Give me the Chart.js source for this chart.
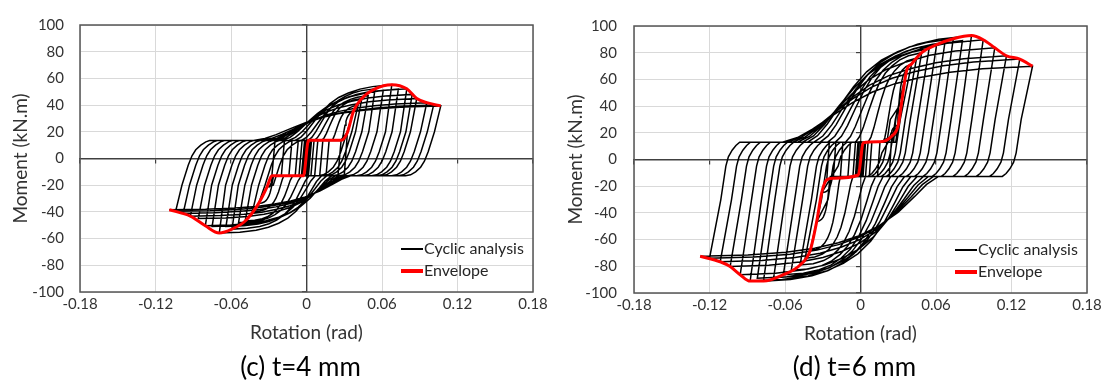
<!DOCTYPE html>
<html>
<head>
<meta charset="utf-8">
<script src="https://cdn.jsdelivr.net/npm/chart.js@4.4.1/dist/chart.umd.min.js"></script>
<style>
  html, body { margin: 0; padding: 0; background: #fff; }
  #wrap { position: relative; width: 1107px; height: 387px; }
  canvas { position: absolute; top: 0; }
  #chartC { left: 0; }
  #chartD { left: 553px; }
</style>
</head>
<body>
<div id="wrap">
  <canvas id="chartC" width="553" height="387"></canvas>
  <canvas id="chartD" width="554" height="387"></canvas>
</div>
<script>
const rotTicks = [-0.18, -0.12, -0.06, 0, 0.06, 0.12, 0.18];
const momTicks = [-100, -80, -60, -40, -20, 0, 20, 40, 60, 80, 100];
const FONT = "Lato, 'Open Sans', sans-serif";

// ---- (c) t=4 mm : cycle peaks (positive then negative)
const rotPosC = [0.002, 0.003, 0.004, 0.006, 0.009, 0.013, 0.018, 0.0275, 0.0325, 0.0373, 0.041, 0.044, 0.049, 0.0545, 0.061, 0.0678, 0.073, 0.0797, 0.084, 0.0876, 0.0956, 0.101, 0.1067];
const momPosC = [12, 13, 13.5, 13.5, 13.5, 13.6, 13.6, 13.6, 19.5, 35.3, 40, 45, 47, 52.2, 51, 55.3, 52, 52.2, 48, 45, 41.8, 40, 39.4];
const rotNegC = [-0.002, -0.003, -0.004, -0.006, -0.009, -0.014, -0.02, -0.0275, -0.0314, -0.038, -0.043, -0.0487, -0.054, -0.0592, -0.064, -0.0693, -0.075, -0.0804, -0.086, -0.0923, -0.098, -0.104, -0.109];
const momNegC = [-11.5, -12, -12.5, -13, -13, -13, -13, -13, -21.4, -33.6, -40, -46.8, -48, -52.9, -51, -55.8, -51, -50.4, -45, -43.2, -41, -39.5, -38.4];
// rotation where each reloading branch leaves the slip plateau
const slipPosC = [0.002, 0.003, 0.004, 0.006, 0.009, 0.013, 0.018, 0.0275, 0.027, 0.028, 0.02, 0.012, 0.006, 0.001, -0.004, -0.009, -0.014, -0.019, -0.023, -0.027, -0.031, -0.036, -0.042];
const slipNegC = [-0.002, -0.003, -0.004, -0.006, -0.009, -0.014, -0.02, -0.0275, -0.027, -0.026, -0.018, -0.011, -0.004, 0.002, 0.007, 0.012, 0.016, 0.02, 0.023, 0.026, 0.029, 0.032, 0.035];
// unloading branch: [rotation offset from peak, moment]
const unloadPosC = [[-0.005, 20], [-0.01, 5], [-0.013, -2], [-0.016, -6.5], [-0.02, -10], [-0.024, -12.2], [-0.028, -13]];
const unloadNegC = [[0.005, -20], [0.01, -5], [0.013, 2], [0.016, 6.5], [0.02, 10], [0.024, 12.5], [0.027, 13.5]];
const envRotC = [-0.109, -0.0923, -0.0804, -0.0693, -0.0592, -0.0487, -0.038, -0.0314, -0.0275, -0.0024, 0.0016, 0.0275, 0.0325, 0.0373, 0.044, 0.0545, 0.0678, 0.0797, 0.0876, 0.0956, 0.1067];
const envMomC = [-38.4, -43.2, -50.4, -55.8, -52.9, -46.8, -33.6, -21.4, -13, -13, 13.6, 13.6, 19.5, 35.3, 45, 52.2, 55.3, 52.2, 45, 41.8, 39.4];

// ---- (d) t=6 mm
const rotPosD = [0.002, 0.003, 0.004, 0.006, 0.009, 0.0155, 0.0248, 0.030, 0.0327, 0.0367, 0.0406, 0.0446, 0.0486, 0.0545, 0.0605, 0.067, 0.0737, 0.081, 0.0882, 0.0975, 0.1067, 0.116, 0.1266, 0.1367];
const momPosD = [12.6, 12.8, 12.8, 13, 13, 13.3, 17.4, 25.8, 42.7, 66.8, 71.6, 76, 80, 83, 86, 87, 90.4, 89, 92.8, 89.7, 83.7, 77.7, 75.2, 69.9];
const rotNegD = [-0.0017, -0.003, -0.004, -0.006, -0.01, -0.016, -0.0216, -0.0268, -0.0308, -0.0348, -0.040, -0.044, -0.048, -0.055, -0.0613, -0.069, -0.0771, -0.082, -0.0877, -0.0956, -0.1036, -0.1115, -0.12, -0.1274];
const momNegD = [-11.6, -12, -12.3, -12.5, -12.7, -13, -14, -15.2, -24.8, -46.5, -68.2, -74, -79, -83, -86.3, -88.5, -91.1, -89, -91.1, -86.3, -80.2, -76.6, -74, -72.5];
const slipPosD = [0.002, 0.003, 0.004, 0.006, 0.009, 0.0155, 0.0155, 0.022, 0.026, 0.028, 0.018, 0.006, -0.004, -0.012, -0.02, -0.026, -0.032, -0.037, -0.042, -0.046, -0.05, -0.054, -0.058, -0.062];
const slipNegD = [-0.0017, -0.003, -0.004, -0.006, -0.01, -0.016, -0.0017, -0.0216, -0.022, -0.024, -0.016, -0.006, 0.004, 0.012, 0.018, 0.024, 0.03, 0.035, 0.04, 0.045, 0.05, 0.054, 0.058, 0.062];
const unloadPosD = [[-0.009, 30], [-0.013, 5], [-0.015, -2], [-0.018, -7], [-0.021, -10.5], [-0.024, -12.7]];
const unloadNegD = [[0.009, -30], [0.013, -5], [0.015, 2], [0.018, 7], [0.021, 10.5], [0.024, 13]];
const envRotD = [-0.1274, -0.1115, -0.1036, -0.0956, -0.0877, -0.0771, -0.0613, -0.048, -0.040, -0.0348, -0.0308, -0.0268, -0.0216, -0.0017, 0.0022, 0.0155, 0.0248, 0.030, 0.0327, 0.0367, 0.0406, 0.0486, 0.0605, 0.0737, 0.0882, 0.0975, 0.1067, 0.116, 0.1266, 0.1367];
const envMomD = [-72.5, -76.6, -80.2, -86.3, -91.1, -91.1, -86.3, -79, -68.2, -46.5, -24.8, -15.2, -14, -11.6, 12.6, 13.3, 17.4, 25.8, 42.7, 66.8, 71.6, 80, 86, 90.4, 92.8, 89.7, 83.7, 77.7, 75.2, 69.9];

// shape of a reloading branch, plateau -> peak, as [fraction of rotation span, fraction of moment rise]
const reloadPosShape = [[0.06, 0.06], [0.12, 0.17], [0.2, 0.35], [0.28, 0.52], [0.36, 0.66], [0.45, 0.77], [0.55, 0.85], [0.67, 0.92], [0.8, 0.965]];
const reloadNegShape = [[0.05, 0.1], [0.1, 0.25], [0.17, 0.45], [0.25, 0.62], [0.33, 0.74], [0.42, 0.83], [0.52, 0.9], [0.64, 0.95], [0.8, 0.985]];

// walk through the cycles: peak -> unload -> slip plateau -> reload -> opposite peak
function buildLoops(s) {
  const pts = [{ x: 0, y: 0 }];
  for (let i = 0; i < s.rotPos.length; i++) {
    const ap = s.rotPos[i], mp = s.momPos[i], an = s.rotNeg[i], mn = s.momNeg[i];
    if (i > 0) {
      const pn = s.rotNeg[i - 1], pm = s.momNeg[i - 1];
      if (pm > -20) pts.push({ x: pn + s.gap, y: s.top });
      else s.unloadNeg.forEach(([dx, m]) => { if (m > pm) pts.push({ x: pn + dx, y: m }); });
    }
    const sp = s.slipPos[i];
    if (sp < ap - 0.0005) pts.push({ x: sp, y: s.top });
    if (mp >= 20) {
      reloadPosShape.forEach(([u, v]) => pts.push({ x: sp + u * (ap - sp), y: s.top + v * (mp - s.top) }));
    }
    pts.push({ x: ap, y: mp });

    if (mp < 20) pts.push({ x: ap - s.gap, y: s.bot });
    else s.unloadPos.forEach(([dx, m]) => { if (m < mp) pts.push({ x: ap + dx, y: m }); });
    const sn = s.slipNeg[i];
    if (sn > an + 0.0005) pts.push({ x: sn, y: s.bot });
    if (mn <= -20) {
      reloadNegShape.forEach(([u, v]) => pts.push({ x: sn + u * (an - sn), y: s.bot + v * (mn - s.bot) }));
    }
    pts.push({ x: an, y: mn });
  }
  return pts;
}

const frameAndLegend = {
  id: 'frameAndLegend',
  beforeDatasetsDraw(chart) {
    const { ctx, chartArea: a } = chart;
    ctx.save();
    ctx.strokeStyle = '#555555';
    ctx.lineWidth = 1.5;
    ctx.strokeRect(a.left, a.top, a.right - a.left, a.bottom - a.top);
    ctx.restore();
  },
  afterDraw(chart, args, opts) {
    const { ctx, chartArea: a } = chart;
    ctx.save();
    const lx = a.right - 132;
    const rows = [
      { y: a.bottom - 43, color: '#000000', w: 2, text: 'Cyclic analysis' },
      { y: a.bottom - 21, color: '#ff0000', w: 4, text: 'Envelope' }
    ];
    ctx.font = '16px ' + FONT;
    ctx.textBaseline = 'middle';
    rows.forEach(r => {
      ctx.strokeStyle = r.color;
      ctx.lineWidth = r.w;
      ctx.beginPath();
      ctx.moveTo(lx, r.y);
      ctx.lineTo(lx + 22, r.y);
      ctx.stroke();
      ctx.fillStyle = '#262626';
      ctx.fillText(r.text, lx + 23, r.y);
    });
    ctx.font = '26px ' + FONT;
    ctx.textAlign = 'center';
    ctx.fillStyle = '#000000';
    ctx.fillText(opts.caption, (a.left + a.right) / 2 - 6, 368);
    ctx.restore();
  }
};

function makeChart(id, series, env, layout) {
  const setTicks = (vals) => (s) => { s.ticks = vals.map(v => ({ value: v })); };
  const gridColor = (c) => (c.tick && c.tick.value === 0 ? 'rgba(0,0,0,0)' : '#d9d9d9');
  return new Chart(document.getElementById(id), {
    type: 'scatter',
    data: {
      datasets: [
        {
          label: 'Envelope',
          data: env.rot.map((r, i) => ({ x: r, y: env.mom[i] })),
          showLine: true,
          borderColor: '#ff0000',
          borderWidth: 3,
          pointRadius: 0,
          cubicInterpolationMode: 'monotone'
        },
        {
          label: 'Cyclic analysis',
          data: buildLoops(series),
          showLine: true,
          borderColor: '#000000',
          borderWidth: 1.5,
          pointRadius: 0,
          tension: 0
        }
      ]
    },
    options: {
      responsive: false,
      animation: false,
      events: [],
      layout: { padding: { left: 0, right: layout.padRight, top: layout.padTop, bottom: layout.padBottom } },
      plugins: {
        legend: { display: false },
        tooltip: { enabled: false },
        frameAndLegend: { caption: layout.caption }
      },
      scales: {
        x: {
          type: 'linear', position: 'bottom', min: -0.18, max: 0.18,
          afterBuildTicks: setTicks(rotTicks),
          afterFit: (s) => { s.height = 60; },
          grid: { color: gridColor, lineWidth: 1, drawTicks: false },
          border: { display: false },
          ticks: {
            padding: 3, color: '#333333', maxRotation: 0, autoSkip: false,
            font: { family: FONT, size: 15 },
            callback: (v) => String(Math.round(v * 100) / 100)
          },
          title: {
            display: true, text: 'Rotation (rad)', color: '#333333',
            font: { family: FONT, size: 19 }, padding: { top: 0, bottom: 8 }
          }
        },
        y: {
          type: 'linear', position: 'left', min: -100, max: 100,
          afterBuildTicks: setTicks(momTicks),
          afterFit: (s) => { s.width = layout.yWidth; },
          grid: { color: gridColor, lineWidth: 1, drawTicks: false },
          border: { display: false },
          ticks: { padding: layout.yTickPad, color: '#333333', font: { family: FONT, size: 15 } },
          title: {
            display: true, text: 'Moment (kN.m)', color: '#333333',
            font: { family: FONT, size: 19 }, padding: { top: layout.yTitlePad, bottom: 0 }
          }
        },
        xc: {
          type: 'linear', axis: 'x', position: { y: 0 }, min: -0.18, max: 0.18,
          afterBuildTicks: setTicks(rotTicks),
          grid: { drawOnChartArea: false, drawTicks: true, tickLength: 4, color: '#404040', lineWidth: 1.2 },
          border: { display: true, color: '#404040', width: 1.4 },
          ticks: { display: false }
        },
        yc: {
          type: 'linear', axis: 'y', position: { x: 0 }, min: -100, max: 100,
          afterBuildTicks: setTicks(momTicks),
          grid: { drawOnChartArea: false, drawTicks: true, tickLength: 4, color: '#404040', lineWidth: 1.2 },
          border: { display: true, color: '#404040', width: 1.4 },
          ticks: { display: false }
        }
      }
    },
    plugins: [frameAndLegend]
  });
}

makeChart('chartC', {
  rotPos: rotPosC, momPos: momPosC, rotNeg: rotNegC, momNeg: momNegC,
  slipPos: slipPosC, slipNeg: slipNegC, unloadPos: unloadPosC, unloadNeg: unloadNegC,
  top: 13.5, bot: -13, gap: 0.0025
}, { rot: envRotC, mom: envMomC }, {
  padRight: 20, padTop: 16, padBottom: 35, yWidth: 80, yTickPad: 16, yTitlePad: 9, caption: '(c) t=4 mm'
});

makeChart('chartD', {
  rotPos: rotPosD, momPos: momPosD, rotNeg: rotNegD, momNeg: momNegD,
  slipPos: slipPosD, slipNeg: slipNegD, unloadPos: unloadPosD, unloadNeg: unloadNegD,
  top: 13, bot: -12.7, gap: 0.002
}, { rot: envRotD, mom: envMomD }, {
  padRight: 20, padTop: 17, padBottom: 34, yWidth: 81, yTickPad: 17, yTitlePad: 11, caption: '(d) t=6 mm'
});
</script>
</body>
</html>
